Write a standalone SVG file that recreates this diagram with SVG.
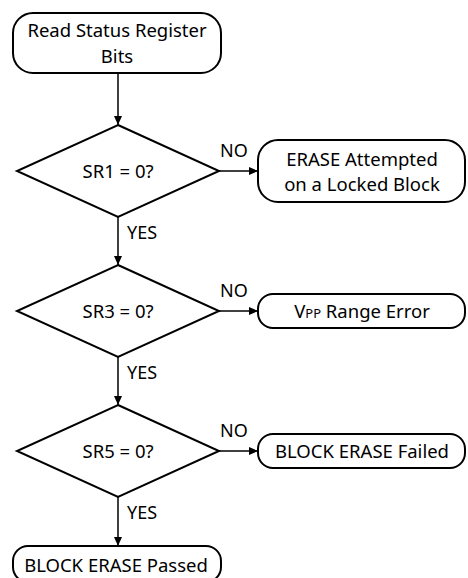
<svg xmlns="http://www.w3.org/2000/svg" width="468" height="578" viewBox="0 0 468 578">
<style>
.box{fill:#fff;stroke:#000;stroke-width:2}
.t{font-family:"Noto Sans","Liberation Sans",sans-serif;font-size:18.5px;fill:#000;text-anchor:middle}
.l{font-family:"Noto Sans","Liberation Sans",sans-serif;font-size:18px;fill:#000}
.c{stroke:#000;stroke-width:1.5;fill:none;marker-end:url(#ah)}
</style>
<defs>
<marker id="ah" markerWidth="10" markerHeight="8" refX="9" refY="4" orient="auto" markerUnits="userSpaceOnUse">
<path d="M0,0 L9,4 L0,8 Z" fill="#000"/>
</marker>
</defs>
<g id="connectors">
<line class="c" x1="118" y1="73" x2="118" y2="125"/>
<line class="c" x1="219" y1="171" x2="258" y2="171"/>
<line class="c" x1="118" y1="217" x2="118" y2="265"/>
<line class="c" x1="219" y1="311" x2="258" y2="311"/>
<line class="c" x1="118" y1="357" x2="118" y2="405"/>
<line class="c" x1="219" y1="451" x2="258" y2="451"/>
<line class="c" x1="118" y1="497" x2="118" y2="546"/>
<text class="l" x="220" y="157">NO</text>
<text class="l" x="220" y="297">NO</text>
<text class="l" x="220" y="437">NO</text>
<text class="l" x="127" y="239">YES</text>
<text class="l" x="127" y="379">YES</text>
<text class="l" x="127" y="519">YES</text>
</g>
<g id="start">
<rect class="box" x="13" y="13" width="208" height="60" rx="20"/>
<text class="t" x="117" y="37">Read Status Register</text>
<text class="t" x="117" y="63">Bits</text>
</g>
<g id="sr1">
<polygon class="box" points="118,125 219,171 118,217 17,171"/>
<text class="t" x="118" y="178">SR1 = 0?</text>
</g>
<g id="locked">
<rect class="box" x="258" y="140" width="207" height="62" rx="20"/>
<text class="t" x="362" y="166">ERASE Attempted</text>
<text class="t" x="362" y="191">on a Locked Block</text>
</g>
<g id="sr3">
<polygon class="box" points="118,265 219,311 118,357 17,311"/>
<text class="t" x="118" y="318">SR3 = 0?</text>
</g>
<g id="vpp">
<rect class="box" x="258" y="294" width="207" height="34" rx="15"/>
<text class="t" x="362" y="318">V<tspan font-size="13">PP</tspan> Range Error</text>
</g>
<g id="sr5">
<polygon class="box" points="118,405 219,451 118,497 17,451"/>
<text class="t" x="118" y="458">SR5 = 0?</text>
</g>
<g id="failed">
<rect class="box" x="258" y="434" width="207" height="34" rx="15"/>
<text class="t" x="362" y="458">BLOCK ERASE Failed</text>
</g>
<g id="passed">
<rect class="box" x="13" y="546" width="208" height="36" rx="15"/>
<text class="t" x="116" y="572">BLOCK ERASE Passed</text>
</g>
</svg>
